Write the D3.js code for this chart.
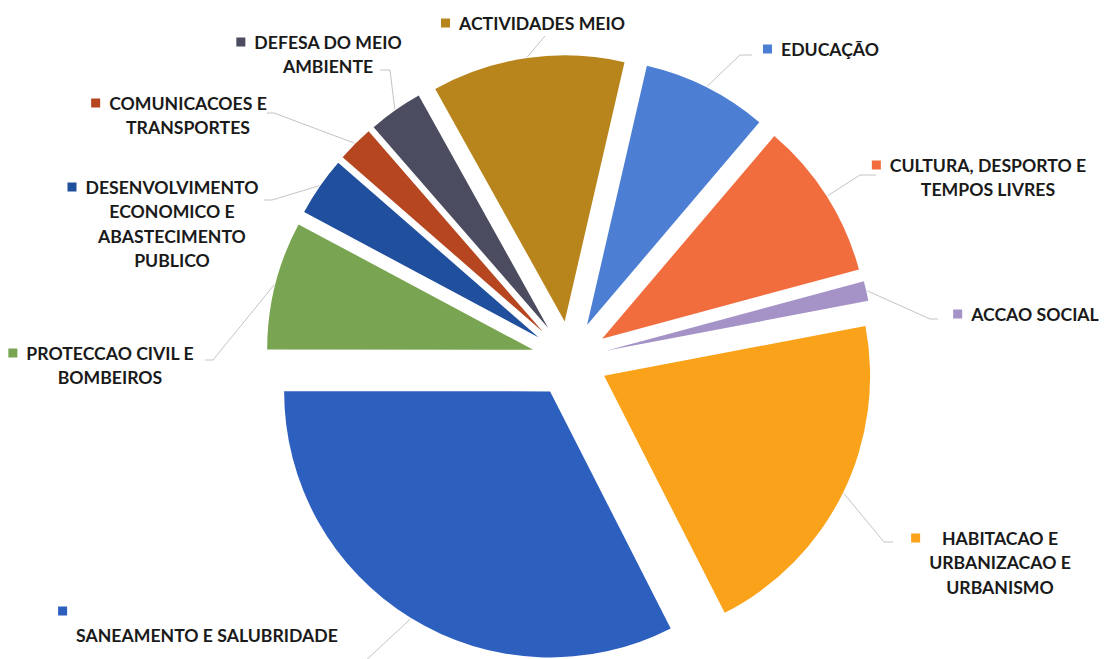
<!DOCTYPE html>
<html>
<head>
<meta charset="utf-8">
<script src="https://cdn.jsdelivr.net/npm/d3@7"></script>
<style>
  html, body { margin: 0; padding: 0; background: #fff; }
  #chart { width: 1110px; height: 659px; }
</style>
</head>
<body>
<div id="chart"></div>
<script>
// categorias, pela ordem do gráfico (sentido horário, a partir de EDUCAÇÃO)
const categories = [
    "EDUCAÇÃO",
    "CULTURA, DESPORTO E TEMPOS LIVRES",
    "ACCAO SOCIAL",
    "HABITACAO E URBANIZACAO E URBANISMO",
    "SANEAMENTO E SALUBRIDADE",
    "PROTECCAO CIVIL E BOMBEIROS",
    "DESENVOLVIMENTO ECONOMICO E ABASTECIMENTO PUBLICO",
    "COMUNICACOES E TRANSPORTES",
    "DEFESA DO MEIO AMBIENTE",
    "ACTIVIDADES MEIO"
];

// percentagens (estimadas)
const values = [7.6, 9.6, 1.2, 20.5, 32.5, 7.8, 3.6, 2.2, 3.3, 11.7];

const colors = [
    "#4c7ed3", // educação
    "#f16d3e", // cultura
    "#a593c8", // acção social
    "#faa21a", // habitação
    "#2d5fbf", // saneamento
    "#79a452", // protecção civil
    "#1f4f9d", // desenvolvimento
    "#b5461f", // comunicações
    "#4c4c60", // defesa
    "#b8851c"  // actividades
];

// quebras de linha das etiquetas
const labelLines = [
    ["EDUCAÇÃO"],
    ["CULTURA, DESPORTO  E", "TEMPOS LIVRES"],
    ["ACCAO SOCIAL"],
    ["HABITACAO E", "URBANIZACAO E", "URBANISMO"],
    ["", "SANEAMENTO E SALUBRIDADE"],
    ["PROTECCAO CIVIL E", "BOMBEIROS"],
    ["DESENVOLVIMENTO", "ECONOMICO E", "ABASTECIMENTO", "PUBLICO"],
    ["COMUNICACOES E", "TRANSPORTES"],
    ["DEFESA DO MEIO", "AMBIENTE"],
    ["ACTIVIDADES MEIO"]
];

// posição das etiquetas: centro do bloco, y da 1.ª linha, cotovelo e fim da linha de chamada
const labelLayout = [
    { cx: 830,  y: 49,  knee: [740, 55],  end: [752, 55] },
    { cx: 988,  y: 165, knee: [860, 175], end: [876, 175] },
    { cx: 1035, y: 314, knee: [930, 319], end: [938, 319] },
    { cx: 1000, y: 538, knee: [884, 542], end: [893, 542] },
    { cx: 207,  y: 611, knee: [362, 664], end: [362, 664] },
    { cx: 110,  y: 353, knee: [213, 360], end: [205, 360] },
    { cx: 172,  y: 187, knee: [272, 200], end: [264, 200] },
    { cx: 188,  y: 103, knee: [274, 113], end: [267, 113] },
    { cx: 328,  y: 42,  knee: [390, 70],  end: [380, 70] },
    { cx: 542,  y: 23,  knee: [545, 36],  end: [545, 36] }
];

const width = 1110;
const height = 659;
const center = [570, 359];
const radius = 266;
const explode = 38;
const lineHeight = 24.5;
const startAngle = 13 * Math.PI / 180;

const svg = d3.select("#chart")
    .append("svg")
    .attr("width", width)
    .attr("height", height)
    .attr("viewBox", `0 0 ${width} ${height}`);

const pie = d3.pie()
    .sort(null)
    .value(d => d)
    .startAngle(startAngle)
    .endAngle(startAngle + 2 * Math.PI);

const arcs = pie(values);

const arc = d3.arc()
    .innerRadius(0)
    .outerRadius(radius);

const mid = d => (d.startAngle + d.endAngle) / 2;

// fatias destacadas
const g = svg.append("g")
    .attr("transform", `translate(${center[0]},${center[1]})`);

g.selectAll(".slice")
    .data(arcs)
    .join("path")
    .attr("class", "slice")
    .attr("transform", d => `translate(${explode * Math.sin(mid(d))},${-explode * Math.cos(mid(d))})`)
    .attr("d", arc)
    .attr("fill", (d, i) => colors[i]);

// linhas de chamada
const leaders = svg.append("g");
arcs.forEach((d, i) => {
    const a = mid(d);
    const k = explode + radius + 1;
    const start = [center[0] + k * Math.sin(a), center[1] - k * Math.cos(a)];
    const L = labelLayout[i];
    leaders.append("path")
        .attr("d", d3.line()([start, L.knee, L.end]))
        .attr("fill", "none")
        .attr("stroke", "#c4c4c4")
        .attr("stroke-width", 1);
});

// etiquetas
const fontFamily = "Lato, 'Open Sans', sans-serif";
const labels = svg.append("g")
    .attr("font-family", fontFamily)
    .attr("font-weight", "bold")
    .attr("fill", "#1a1a1a");

// ajusta o tamanho de letra para a largura de referência
const probe = labels.append("text").attr("font-size", 20).text("SANEAMENTO E SALUBRIDADE");
const fontSize = 20 * 262 / probe.node().getComputedTextLength();
probe.remove();

labelLines.forEach((lines, i) => {
    const L = labelLayout[i];
    const text = labels.append("text")
        .attr("font-size", fontSize)
        .attr("text-anchor", "middle");
    lines.forEach((line, j) => {
        text.append("tspan")
            .attr("x", L.cx)
            .attr("y", L.y + j * lineHeight + fontSize * 0.37)
            .text(line);
    });
    let maxW = 0;
    text.selectAll("tspan").each(function () {
        maxW = Math.max(maxW, this.getComputedTextLength());
    });
    const left = L.cx - maxW / 2;
    labels.append("rect")
        .attr("x", left - 18)
        .attr("y", L.y - 4.5)
        .attr("width", 9)
        .attr("height", 9)
        .attr("fill", colors[i]);
});
</script>
</body>
</html>
